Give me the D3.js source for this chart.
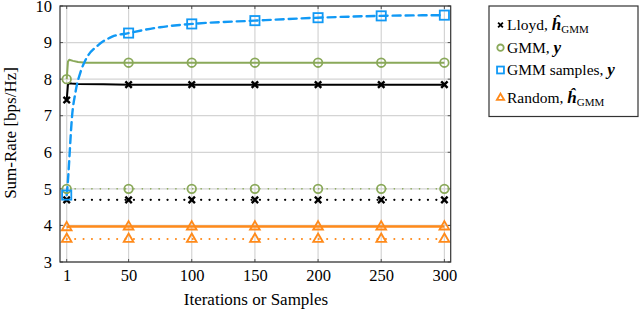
<!DOCTYPE html>
<html>
<head>
<meta charset="utf-8">
<script src="https://cdn.jsdelivr.net/npm/d3@7"></script>
<style>
  body { margin: 0; background: #fff; }
  svg text { font-family: "Liberation Serif", "Times New Roman", Times, "DejaVu Serif", serif; }
</style>
</head>
<body>
<svg id="chart" width="640" height="313"></svg>
<script>
'use strict';

const FONT = "'Liberation Serif', 'Times New Roman', Times, 'DejaVu Serif', serif";

// x positions of the plotted samples
const xTicks = [1, 50, 100, 150, 200, 250, 300];
const yTicks = [3, 4, 5, 6, 7, 8, 9, 10];
const markX = [1, 50, 100, 150, 200, 250, 300];

// Lloyd, h_GMM (solid) and its dotted counterpart
const lloydX = [1, 2, 3, 5, 10, 30, 50, 100, 150, 200, 250, 300];
const lloydY = [7.43, 7.85, 7.89, 7.88, 7.87, 7.86, 7.85, 7.85, 7.85, 7.85, 7.85, 7.85];
const lloydDotY = 4.7;

// GMM, y (solid) and dotted
const gmmX = [1, 2, 3, 6, 10, 16, 30, 50, 100, 150, 200, 250, 300];
const gmmY = [8.0, 8.48, 8.53, 8.5, 8.47, 8.45, 8.45, 8.45, 8.45, 8.45, 8.45, 8.45, 8.45];
const gmmDotY = 5.0;

// GMM samples, y (dashed)
const sampX = [1, 2, 3, 4, 5, 8, 12, 16, 26, 37, 50, 75, 100, 150, 200, 250, 300];
const sampY = [4.83, 5.23, 5.77, 6.36, 6.88, 7.65, 8.2, 8.53, 8.93, 9.16, 9.26, 9.42, 9.51, 9.6, 9.68, 9.73, 9.75];

// Random, h_GMM (solid) and dotted
const randX = [1, 3, 50, 100, 150, 200, 250, 300];
const randY = [3.95, 3.97, 3.97, 3.97, 3.97, 3.97, 3.97, 3.97];
const randDotY = 3.63;

const colors = {
  lloyd: "#000000",
  gmm: "#8aa95a",
  samp: "#1199f5",
  rand: "#ff8a1a"
};

const svg = d3.select("#chart").attr("font-family", FONT);

const x = d3.scaleLinear().domain([-4.3, 305]).range([60, 450.7]);
const y = d3.scaleLinear().domain([3, 10]).range([262, 6]);

// grid
const grid = svg.append("g");
grid.selectAll("line.gx")
  .data(xTicks)
  .enter()
  .append("line")
  .attr("x1", d => x(d)).attr("x2", d => x(d))
  .attr("y1", y(3)).attr("y2", y(10))
  .attr("stroke", "#d4d4d4").attr("stroke-width", 1.2);
grid.selectAll("line.gy")
  .data(yTicks)
  .enter()
  .append("line")
  .attr("y1", d => y(d)).attr("y2", d => y(d))
  .attr("x1", x.range()[0]).attr("x2", x.range()[1])
  .attr("stroke", "#d4d4d4").attr("stroke-width", 1.2);

// axes with tick labels
const xAxis = d3.axisBottom(x).tickValues(xTicks).tickFormat(d3.format("d")).tickSize(0).tickPadding(7);
const yAxis = d3.axisLeft(y).tickValues(yTicks).tickFormat(d3.format("d")).tickSize(0).tickPadding(8);

svg.append("g")
  .attr("transform", `translate(0,${y(3)})`)
  .call(xAxis)
  .attr("font-family", FONT)
  .attr("font-size", 16.5)
  .call(g => g.select(".domain").remove())
  .selectAll("text")
  .attr("fill", "#000");

svg.append("g")
  .attr("transform", `translate(${x.range()[0]},0)`)
  .call(yAxis)
  .attr("font-family", FONT)
  .attr("font-size", 16.5)
  .call(g => g.select(".domain").remove())
  .selectAll("text")
  .attr("fill", "#000");

// small inner ticks on the box
const ticks = svg.append("g").attr("stroke", "#555").attr("stroke-width", 1);
xTicks.forEach(t => {
  ticks.append("line").attr("x1", x(t)).attr("x2", x(t)).attr("y1", y(3)).attr("y2", y(3) - 3);
  ticks.append("line").attr("x1", x(t)).attr("x2", x(t)).attr("y1", y(10)).attr("y2", y(10) + 3);
});
yTicks.forEach(t => {
  ticks.append("line").attr("y1", y(t)).attr("y2", y(t)).attr("x1", x.range()[0]).attr("x2", x.range()[0] + 3);
  ticks.append("line").attr("y1", y(t)).attr("y2", y(t)).attr("x1", x.range()[1]).attr("x2", x.range()[1] - 3);
});

// lines
const line = d3.line().x(d => x(d[0])).y(d => y(d[1]));
const smooth = d3.line().x(d => x(d[0])).y(d => y(d[1])).curve(d3.curveMonotoneX);
const flat = v => [[1, v], [300, v]];

const series = [
  { pts: d3.zip(randX, randY), gen: line, color: colors.rand, w: 2.4, dash: null, mark: "tri" },
  { pts: flat(randDotY), gen: line, color: colors.rand, w: 2, dash: "0.1 8.3", mark: "tri" },
  { pts: flat(lloydDotY), gen: line, color: colors.lloyd, w: 2.2, dash: "0.1 8.3", mark: "x" },
  { pts: flat(gmmDotY), gen: line, color: colors.gmm, w: 1.6, dash: "0.1 8.3", mark: "o" },
  { pts: d3.zip(lloydX, lloydY), gen: line, color: colors.lloyd, w: 2, dash: null, mark: "x" },
  { pts: d3.zip(gmmX, gmmY), gen: line, color: colors.gmm, w: 2, dash: null, mark: "o" },
  { pts: d3.zip(sampX, sampY), gen: smooth, color: colors.samp, w: 2.4, dash: "8 5", mark: "sq" }
];

const plot = svg.append("g");

series.forEach(s => {
  plot.append("path")
    .attr("d", s.gen(s.pts))
    .attr("fill", "none")
    .attr("stroke", s.color)
    .attr("stroke-width", s.w)
    .attr("stroke-linecap", s.dash ? "round" : "butt")
    .attr("stroke-linejoin", "round")
    .attr("stroke-dasharray", s.dash);
});

function marker(g, type, cx, cy, color, k = 1) {
  if(type === "x") {
    const r = 3.2 * k;
    g.append("path")
      .attr("d", `M${cx - r},${cy - r}L${cx + r},${cy + r}M${cx - r},${cy + r}L${cx + r},${cy - r}`)
      .attr("stroke", color).attr("stroke-width", 2.4 * k).attr("fill", "none");
  }
  else if(type === "o") {
    g.append("circle")
      .attr("cx", cx).attr("cy", cy).attr("r", 4.3 * k)
      .attr("stroke", color).attr("stroke-width", 1.8).attr("fill", "none");
  }
  else if(type === "sq") {
    const h = 4.6 * k;
    g.append("rect")
      .attr("x", cx - h).attr("y", cy - h).attr("width", 2 * h).attr("height", 2 * h)
      .attr("stroke", color).attr("stroke-width", 1.8).attr("fill", "none");
  }
  else if(type === "tri") {
    const r = 5.4 * k;
    g.append("path")
      .attr("d", `M${cx},${cy - r}L${cx + r * 0.9},${cy + r * 0.55}L${cx - r * 0.9},${cy + r * 0.55}Z`)
      .attr("stroke", color).attr("stroke-width", 1.8).attr("fill", "none")
      .attr("stroke-linejoin", "miter");
  }
}

const interp = (xs, ys, v) => {
  const i = xs.indexOf(v);
  if(i >= 0) return ys[i];
  return d3.scaleLinear().domain(xs).range(ys)(v);
};

series.forEach(s => {
  const xs = s.pts.map(p => p[0]);
  const ys = s.pts.map(p => p[1]);
  markX.forEach(m => {
    marker(plot, s.mark, x(m), y(interp(xs, ys, m)), s.color);
  });
});

// frame
svg.append("rect")
  .attr("x", x.range()[0]).attr("y", y(10))
  .attr("width", x.range()[1] - x.range()[0]).attr("height", y(3) - y(10))
  .attr("fill", "none").attr("stroke", "#333").attr("stroke-width", 1.2);

// axis labels
svg.append("text")
  .attr("x", 256).attr("y", 305)
  .attr("text-anchor", "middle")
  .attr("font-size", 17)
  .text("Iterations or Samples");

svg.append("text")
  .attr("transform", "translate(15.5,133) rotate(-90)")
  .attr("text-anchor", "middle")
  .attr("font-size", 17)
  .text("Sum-Rate [bps/Hz]");

// legend
const legend = svg.append("g");
legend.append("rect")
  .attr("x", 489).attr("y", 6).attr("width", 149).attr("height", 110.5)
  .attr("fill", "#fff").attr("stroke", "#333").attr("stroke-width", 1.2);

const legendItems = [
  { label: "Lloyd, ", sym: "h", mark: "x", color: colors.lloyd, base: 30 },
  { label: "GMM, ", sym: "y", mark: "o", color: colors.gmm, base: 52.7 },
  { label: "GMM samples, ", sym: "y", mark: "sq", color: colors.samp, base: 75 },
  { label: "Random, ", sym: "h", mark: "tri", color: colors.rand, base: 102.7 }
];

legendItems.forEach(it => {
  marker(legend, it.mark, 500.5, it.base - 5, it.color, 0.75);
  const t = legend.append("text")
    .attr("x", 507).attr("y", it.base)
    .attr("font-size", 15.5);
  t.append("tspan").text(it.label);
  if(it.sym === "h") {
    t.append("tspan")
      .attr("font-weight", "bold").attr("font-style", "italic")
      .attr("font-size", 17)
      .text("h\u0302");
    t.append("tspan")
      .attr("font-size", 11).attr("dy", 3)
      .text("GMM");
  }
  else {
    t.append("tspan")
      .attr("font-weight", "bold").attr("font-style", "italic")
      .attr("font-size", 17)
      .text("y");
  }
});
</script>
</body>
</html>
